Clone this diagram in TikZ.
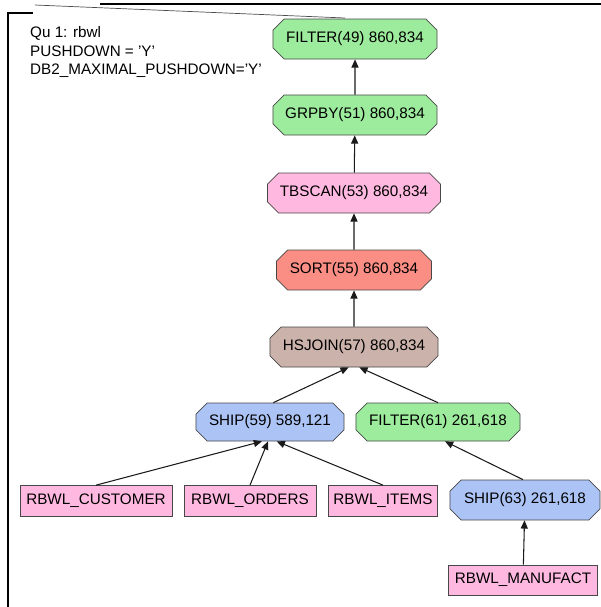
\documentclass[tikz,border=0pt]{standalone}
\usepackage{fontspec}
\setmainfont{Liberation Sans}
\usetikzlibrary{shapes.misc,arrows.meta}
\definecolor{opgreen}{HTML}{9DEB9D}
\definecolor{oppink}{HTML}{FFB9E0}
\definecolor{opsalmon}{HTML}{FA8E84}
\definecolor{opbrown}{HTML}{CBB2AA}
\definecolor{opblue}{HTML}{ABC3F5}
\definecolor{edge}{HTML}{1A1A1A}

\begin{document}
\begin{tikzpicture}[x=0.03cm, y=-0.03cm,
  op/.style={chamfered rectangle, chamfered rectangle angle=45, chamfered rectangle xsep=0.27cm, draw=edge!80, line width=0.6pt, inner sep=0pt, minimum height=1.2cm, font=\fontsize{13}{15}\selectfont},
  tbl/.style={rectangle, draw=edge!80, fill=oppink, line width=0.6pt, inner sep=0pt, minimum height=0.93cm, font=\fontsize{13}{15}\selectfont},
  arrow/.style={-{Triangle[length=7pt, width=6pt]}, line width=0.9pt, edge},
]
  \useasboundingbox (0,0) rectangle (601,607);
  % frame of the window
  \draw[line width=1pt] (8,607) -- (8,13) -- (33,13);
  \draw[line width=0.6pt, black!70] (35,5) -- (345,18);
  \draw[line width=1.2pt] (100,4) -- (601,4);
  \node[anchor=north west, align=left, inner sep=0pt, font=\fontsize{13}{16}\selectfont] (info) at (30,26)
    {Qu 1: rbwl\\PUSHDOWN = 'Y'\\DB2\_MAXIMAL\_PUSHDOWN='Y'};

  \node[op, fill=opgreen, minimum width=4.92cm] (filter49) at (355,39) {FILTER(49) 860,834};
  \node[op, fill=opgreen, minimum width=4.92cm] (grpby51) at (355,115) {GRPBY(51) 860,834};
  \node[op, fill=oppink, minimum width=5.19cm] (tbscan53) at (354,193) {TBSCAN(53) 860,834};
  \node[op, fill=opsalmon, minimum width=4.65cm] (sort55) at (354,270) {SORT(55) 860,834};
  \node[op, fill=opbrown, minimum width=5.04cm] (hsjoin57) at (354,347) {HSJOIN(57) 860,834};
  \node[op, fill=opblue, minimum width=4.44cm, minimum height=1.14cm] (ship59) at (270,422) {SHIP(59) 589,121};
  \node[op, fill=opgreen, minimum width=4.92cm, minimum height=1.14cm] (filter61) at (438,422) {FILTER(61) 261,618};
  \node[op, fill=opblue, minimum width=4.5cm] (ship63) at (525,500) {SHIP(63) 261,618};
  \node[tbl, minimum width=4.56cm] (customer) at (96,501) {RBWL\_CUSTOMER};
  \node[tbl, minimum width=3.96cm] (orders) at (250,501) {RBWL\_ORDERS};
  \node[tbl, minimum width=3.27cm] (items) at (383,501) {RBWL\_ITEMS};
  \node[tbl, minimum width=4.47cm, minimum height=0.9cm] (manufact) at (523,580) {RBWL\_MANUFACT};

  \draw[arrow] (grpby51) -- (filter49);
  \draw[arrow] (tbscan53) -- (grpby51);
  \draw[arrow] (sort55) -- (tbscan53);
  \draw[arrow] (hsjoin57) -- (sort55);
  \draw[arrow] ([xshift=0.1cm]ship59.north) -- ([xshift=-0.16cm]hsjoin57.south);
  \draw[arrow] (filter61.north) -- ([xshift=0.16cm]hsjoin57.south);
  \draw[arrow] (customer.north) -- ([xshift=-0.24cm]ship59.south);
  \draw[arrow] (orders.north) -- ([xshift=-0.06cm]ship59.south);
  \draw[arrow] (items.north) -- ([xshift=0.2cm]ship59.south);
  \draw[arrow] ([xshift=-0.06cm]ship63.north) -- ([xshift=0.21cm]filter61.south);
  \draw[arrow] (manufact) -- (ship63);
\end{tikzpicture}
\end{document}
